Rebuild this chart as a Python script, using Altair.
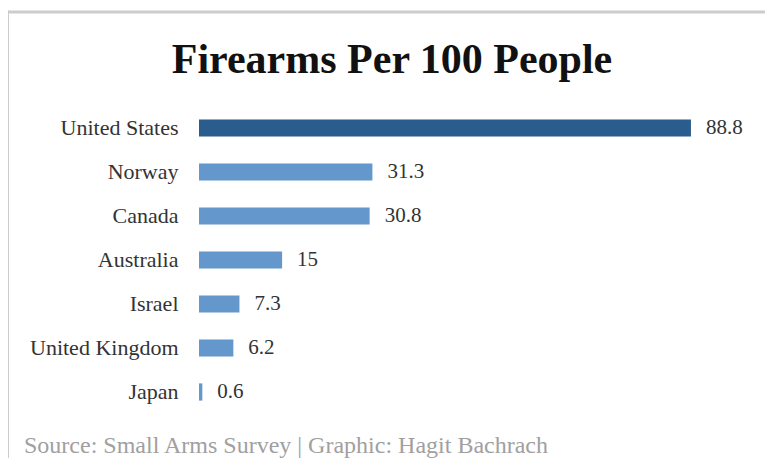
import altair as alt
import pandas as pd

countries = ["United States", "Norway", "Canada", "Australia", "Israel", "United Kingdom", "Japan"]
values = [88.8, 31.3, 30.8, 15, 7.3, 6.2, 0.6]
groups = ["highlight", "other", "other", "other", "other", "other", "other"]

title_text = "Firearms Per 100 People"
source_text = "Source: Small Arms Survey | Graphic: Hagit Bachrach"

df = pd.DataFrame({"country": countries, "value": values, "group": groups})

FONT = "Liberation Serif"

x_enc = alt.X("value:Q", scale=alt.Scale(domain=[0, 100]), axis=None)
y_enc = alt.Y(
    "country:N",
    sort=countries,
    scale=alt.Scale(paddingInner=0.61, paddingOuter=0.305),
    axis=alt.Axis(
        title=None, ticks=False, domain=False, labelPadding=21,
        labelFont=FONT, labelFontSize=22, labelColor="#333333",
    ),
)

bars = alt.Chart(df).mark_bar().encode(
    x=x_enc,
    y=y_enc,
    color=alt.Color(
        "group:N",
        scale=alt.Scale(domain=["highlight", "other"], range=["#2b5c8e", "#6497cb"]),
        legend=None,
    ),
)

labels = alt.Chart(df).mark_text(
    align="left", baseline="middle", dx=15, font=FONT, fontSize=21, color="#333333"
).encode(
    x=x_enc,
    y=y_enc,
    text=alt.Text("value:Q", format=".3~g"),
)

title = alt.Chart(pd.DataFrame({"t": [title_text]})).mark_text(
    align="center", baseline="alphabetic", font=FONT, fontSize=42,
    fontWeight="bold", color="#111111"
).encode(
    x=alt.value(193),
    y=alt.value(-33),
    text="t:N",
)

source = alt.Chart(pd.DataFrame({"t": [source_text]})).mark_text(
    align="left", baseline="alphabetic", font=FONT, fontSize=24, color="#a0a0a0"
).encode(
    x=alt.value(-175),
    y=alt.value(347),
    text="t:N",
)

border_top = alt.Chart(pd.DataFrame({"a": [0]})).mark_rule(
    color="#cccccc", strokeWidth=3
).encode(x=alt.value(-192), x2=alt.value(570), y=alt.value(-94))

border_left = alt.Chart(pd.DataFrame({"a": [0]})).mark_rule(
    color="#cccccc", strokeWidth=3
).encode(x=alt.value(-191.5), y=alt.value(-95.5), y2=alt.value(400))

chart = alt.layer(border_top, border_left, bars, labels, title, source).properties(
    width=554,
    height=308,
    autosize=alt.AutoSizeParams(type="none"),
    padding={"left": 191, "top": 98, "right": 12, "bottom": 44},
    background="white",
).configure_view(stroke=None)

chart.save("out.html", embed_options={"renderer": "svg", "actions": False})
